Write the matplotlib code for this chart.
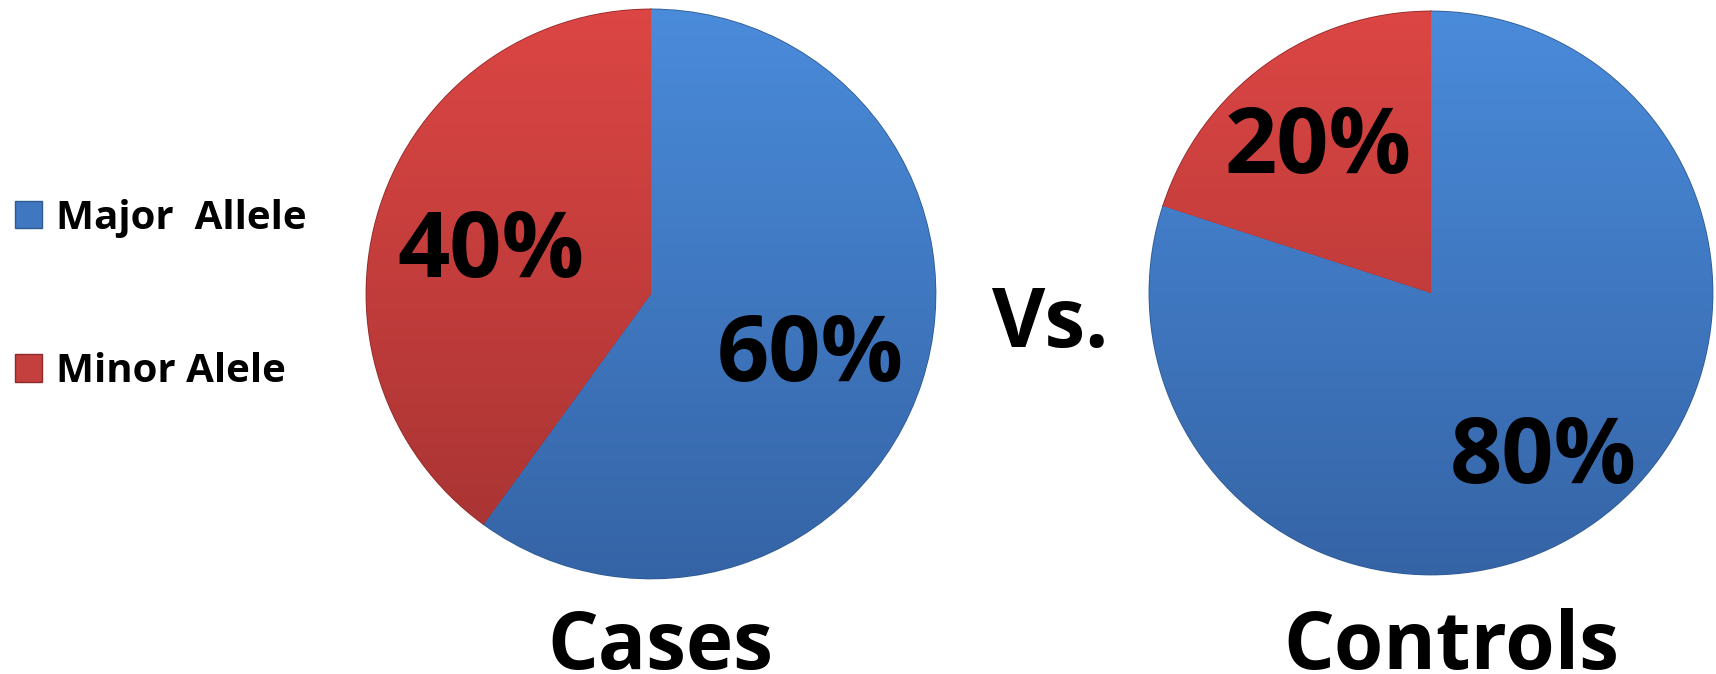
import numpy as np
import matplotlib
matplotlib.use("Agg")
import matplotlib.pyplot as plt
from matplotlib.colors import LinearSegmentedColormap
from matplotlib.patches import Patch

plt.rcParams['font.family'] = ['Open Sans', 'DejaVu Sans']

# data
alleles = ["Major  Allele", "Minor Alele"]
groups = ["Cases", "Controls"]
cases = [60, 40]
controls = [80, 20]

blue_top, blue_bot = "#4A8BDA", "#3564A6"
red_top, red_bot = "#DC4644", "#A53332"
grads = [(blue_top, blue_bot), (red_top, red_bot)]
edges = ["#2E5A92", "#8E2B2A"]

fig = plt.figure(figsize=(17.16, 6.74), dpi=100)

# axes boxes in figure fraction: [left, bottom, width, height]
boxes = [[0.2127, 0.1395, 0.3333, 0.8487],
         [0.6690, 0.1454, 0.3298, 0.8398]]
pctdist = [0.59, 0.68]

grad = np.linspace(0, 1, 256).reshape(-1, 1)

for vals, box, pd in zip([cases, controls], boxes, pctdist):
    ax = fig.add_axes(box)
    wedges, texts, autotexts = ax.pie(
        vals, startangle=90, counterclock=False, radius=1,
        colors=[blue_top, red_top], autopct="%d%%", pctdistance=pd,
        wedgeprops=dict(linewidth=1.2),
        textprops=dict(fontsize=66, fontweight="bold", color="black"))
    for w, (top, bot), ec in zip(wedges, grads, edges):
        w.set_edgecolor(ec)
        cmap = LinearSegmentedColormap.from_list("g", [top, bot])
        im = ax.imshow(grad, cmap=cmap, extent=(-1, 1, -1, 1),
                       aspect="auto", zorder=w.get_zorder() + 0.1)
        im.set_clip_path(w)
    for t in autotexts:
        t.set_zorder(5)
        t.set_va("center_baseline")
    ax.set_xlim(-1.005, 1.005)
    ax.set_ylim(-1.005, 1.005)
    ax.set_aspect("equal", adjustable="box")
    ax.axis("off")

fig.text(660 / 1716, 0.008, groups[0], ha="center", va="baseline",
         fontsize=57.5, fontweight="bold")
fig.text(1451 / 1716, 0.008, groups[1], ha="center", va="baseline",
         fontsize=57.5, fontweight="bold")
fig.text(1050 / 1716, 1 - 326 / 674, "Vs.", ha="center", va="center",
         fontsize=59, fontweight="bold")

handles = [Patch(facecolor="#3F78C0", edgecolor="#2E5A92"),
           Patch(facecolor="#C3403E", edgecolor="#8E2B2A")]
leg = fig.legend(handles, alleles, loc="center left",
                 bbox_to_anchor=(15 / 1716, 1 - 295 / 674),
                 frameon=False, borderpad=0, borderaxespad=0,
                 handlelength=0.68, handleheight=0.68, handletextpad=0.35,
                 labelspacing=2.85,
                 prop=dict(family="Open Sans", weight="bold", size=29))

fig.savefig("out.png", dpi=100)
